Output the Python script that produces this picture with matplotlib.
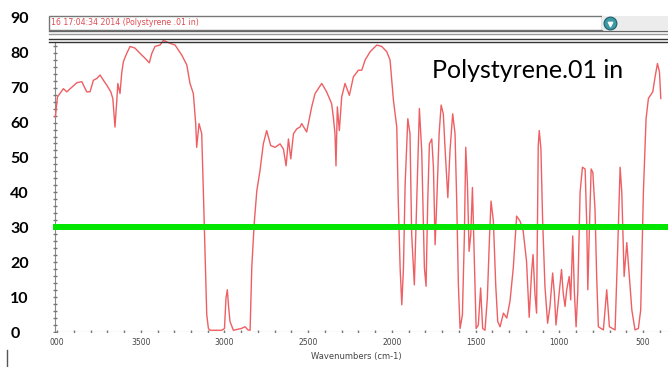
import matplotlib
matplotlib.use("Agg")
import matplotlib.pyplot as plt
from matplotlib.lines import Line2D
from matplotlib.patches import Rectangle

# spectrum (wavenumber cm-1, %T)
wavenumber = [4010, 3998, 3962, 3942, 3882, 3852, 3823, 3803, 3783, 3763, 3743, 3723, 3703, 3679, 3667,
              3654, 3643, 3637, 3624, 3614, 3604, 3584, 3564, 3534, 3504, 3474, 3449, 3434, 3415, 3385,
              3365, 3325, 3295, 3255, 3225, 3206, 3186, 3172, 3166, 3152, 3136, 3126, 3116, 3106, 3096,
              3086, 3016, 3000, 2991, 2983, 2975, 2967, 2947, 2900, 2877, 2860, 2847, 2837, 2823, 2807,
              2788, 2768, 2748, 2724, 2698, 2668, 2648, 2632, 2618, 2604, 2588, 2568, 2549, 2539, 2509,
              2479, 2459, 2419, 2390, 2360, 2350, 2340, 2334, 2326, 2314, 2300, 2280, 2254, 2230, 2200,
              2180, 2160, 2130, 2090, 2061, 2031, 2011, 1991, 1971, 1962, 1951, 1941, 1931, 1921, 1905,
              1892, 1882, 1866, 1852, 1836, 1822, 1806, 1796, 1786, 1776, 1762, 1752, 1742, 1732, 1718,
              1706, 1693, 1683, 1666, 1653, 1637, 1623, 1613, 1603, 1593, 1579, 1567, 1559, 1549, 1539,
              1529, 1519, 1509, 1497, 1484, 1470, 1458, 1444, 1430, 1418, 1408, 1394, 1380, 1368, 1354,
              1334, 1314, 1295, 1275, 1255, 1235, 1216, 1196, 1180, 1166, 1157, 1146, 1136, 1126, 1120,
              1110, 1100, 1086, 1070, 1056, 1040, 1030, 1020, 1007, 987, 977, 966, 956, 941, 932,
              920, 910, 900, 890, 876, 862, 846, 836, 830, 820, 810, 800, 787, 777, 767,
              737, 717, 701, 667, 651, 637, 627, 613, 597, 582, 567, 548, 528, 514, 498,
              482, 468, 442, 428, 414, 402, 394]
transmittance = [61.5, 67.3, 69.7, 68.8, 71.4, 71.7, 68.8, 68.8, 72.1, 72.6, 73.6, 72.1, 70.7, 68.8, 66.9,
                 58.7, 66.4, 71.2, 68.3, 74.1, 77.4, 79.8, 81.8, 81.3, 79.8, 78.4, 77.1, 79.8, 81.8, 82.2,
                 83.5, 82.7, 82.2, 79.3, 76.5, 71.2, 68.3, 59.7, 52.9, 59.7, 56.8, 40.0, 22.0, 5.0, 1.0,
                 0.5, 0.5, 1.0, 9.7, 12.1, 7.0, 3.0, 0.5, 1.0, 1.5, 0.6, 0.5, 18.4, 30.8, 40.4,
                 46.2, 53.9, 57.7, 53.4, 52.9, 53.9, 52.4, 47.6, 55.3, 49.6, 56.8, 58.2, 58.7, 59.7, 57.3,
                 64.5, 68.3, 71.2, 68.8, 65.4, 61.6, 56.8, 47.6, 64.5, 57.7, 67.3, 71.2, 67.8, 73.1, 75.0,
                 75.0, 77.9, 80.3, 82.2, 81.8, 80.3, 77.9, 66.4, 58.7, 37.5, 18.4, 7.8, 18.4, 42.4, 61.1,
                 56.8, 28.0, 13.5, 37.5, 64.0, 52.0, 18.4, 13.1, 37.5, 53.9, 55.3, 47.2, 25.0, 37.5, 56.8,
                 65.0, 62.5, 52.9, 38.5, 52.0, 62.5, 56.8, 37.5, 13.5, 1.0, 4.9, 28.0, 52.9, 42.4, 23.1,
                 28.0, 41.4, 23.1, 1.0, 2.0, 12.6, 1.0, 0.5, 9.7, 26.0, 37.5, 31.8, 13.5, 3.0, 1.5,
                 5.4, 4.0, 8.7, 18.4, 33.2, 31.8, 28.9, 20.3, 4.2, 17.0, 22.2, 11.2, 5.4, 53.4, 57.7,
                 52.4, 32.3, 13.1, 2.5, 7.3, 16.9, 11.2, 2.0, 8.3, 17.9, 11.2, 7.3, 12.1, 15.9, 9.2,
                 27.5, 11.2, 1.5, 11.2, 40.0, 47.2, 46.7, 30.3, 12.1, 30.3, 46.7, 45.7, 35.2, 15.9, 1.5,
                 0.6, 12.1, 1.5, 0.6, 24.6, 47.2, 40.0, 15.9, 25.6, 15.9, 6.3, 0.6, 1.0, 6.3, 40.0,
                 61.1, 66.9, 68.8, 73.1, 76.9, 74.5, 66.9]

ytick_vals = [0, 10, 20, 30, 40, 50, 60, 70, 80, 90]
xtick_vals = [4000, 3500, 3000, 2500, 2000, 1500, 1000, 500]
xtick_labels = ["000", "3500", "3000", "2500", "2000", "1500", "1000", "500"]
threshold = 30
header_text = "16 17:04:34 2014 (Polystyrene .01 in)"
title_text = "Polystyrene.01 in"

fig = plt.figure(figsize=(6.68, 3.67), dpi=100)
ax = fig.add_axes([45 / 668, 35 / 367, 623 / 668, 332 / 367])
ax.set_xlim(4072, 351)
ax.set_ylim(0, 95.1)
for s in ax.spines.values():
    s.set_visible(False)

# axis lines with small tick dots
ax.plot([4012, 351], [0, 0], color="#8a8a8a", lw=0.8, zorder=1)
ax.plot(list(range(4000, 399, -100)), [0] * 37, ls="none", marker="|", ms=3, color="#777", zorder=1)
ax.plot([4012, 4012], [0, 83.2], color="#8a8a8a", lw=0.8, zorder=1)
ax.plot([4012] * 42, list(range(0, 84, 2)), ls="none", marker="_", ms=3, color="#777", zorder=1)

# spectrum
ax.plot(wavenumber, transmittance, color="#ee5f63", lw=1.0, solid_joinstyle="round", zorder=2)

# green threshold line
ax.plot([4024, 351], [threshold, threshold], color="#00e600", lw=4.3, solid_capstyle="butt", zorder=3)

# header bar
ax.add_patch(Rectangle((745, 86.5), 4048 - 745, 4.1, facecolor="white", edgecolor="#777", lw=1, zorder=4))
ax.add_patch(Rectangle((351, 86.5), 745 - 351, 4.1, facecolor="#ececec", edgecolor="none", zorder=4))
ax.scatter([697], [88.6], s=85, color="#3b9aa6", edgecolor="#1f5e68", lw=0.8, zorder=5)
ax.scatter([697], [88.3], s=10, marker="v", color="white", zorder=6)
ax.text(4036, 88.6, header_text, color="#e04a50", fontsize=5.6, va="center", zorder=6)
ax.plot([4048, 351], [86.1, 86.1], color="#666", lw=1, zorder=4)
ax.plot([4048, 351], [85.4, 85.4], color="#999", lw=1, zorder=4)
ax.plot([4048, 351], [83.8, 83.8], color="#333", lw=1, zorder=4)
ax.plot([4048, 351], [83.2, 83.2], color="#333", lw=1, zorder=4)

ax.text(1760, 72.7, title_text, fontsize=18, family=["Lato", "DejaVu Sans"], va="baseline", zorder=6)

ax.set_yticks(ytick_vals)
ax.set_yticklabels([str(v) for v in ytick_vals], fontsize=11.5, fontweight="bold",
                   family=["Lato", "DejaVu Sans"])
ax.tick_params(axis="y", length=0, pad=25)
for lbl in ax.get_yticklabels():
    lbl.set_horizontalalignment("left")

ax.set_xticks(xtick_vals)
ax.set_xticklabels(xtick_labels, fontsize=5.5, color="#444")
ax.tick_params(axis="x", length=0, pad=4)
ax.set_xlabel("Wavenumbers (cm-1)", fontsize=6, color="#444", labelpad=4)

fig.add_artist(Line2D([7 / 668, 7 / 668], [0, 17 / 367], color="#555", lw=1))

fig.savefig("out.png", dpi=100)
